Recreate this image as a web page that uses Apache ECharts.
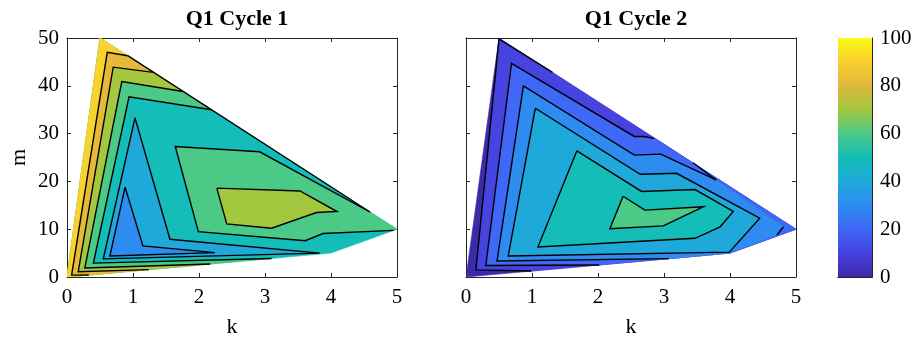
<!DOCTYPE html>
<html>
<head>
<meta charset="utf-8">
<script src="https://cdn.jsdelivr.net/npm/echarts@6/dist/echarts.min.js"></script>
<style>
  html, body { margin: 0; padding: 0; background: #fff; }
  #chart { width: 918px; height: 343px; }
</style>
</head>
<body>
<div id="chart"></div>
<script>
// ---- data (k, m) ----
const kRange = [0, 5];
const mRange = [0, 50];
const colorTicks = [0, 20, 40, 60, 80, 100];
const titles = ['Q1 Cycle 1', 'Q1 Cycle 2'];

// outline of the sampled region
const domain = [[0, 0], [0.5, 50], [5, 10], [4, 5]];

// Cycle 1 contour lines
const c1Line30 = [[0.88, 18.8], [1.15, 6.5], [2.24, 5.1], [0.65, 4.4], [0.88, 18.8]];
const c1Line40 = [[1.03, 33.3], [1.56, 7.9], [3.83, 5.0], [0.55, 3.8], [1.03, 33.3]];
const c1Line50L = [[2.19, 35.0], [0.94, 37.7], [0.40, 2.9], [3.10, 3.88]];
const c1Line50R = [[4.59, 13.6], [2.92, 26.2], [1.64, 27.3], [1.99, 9.5], [3.61, 7.6], [3.88, 9.1], [4.95, 9.75]];
const c1Line60L = [[1.76, 38.8], [0.83, 40.9], [0.27, 1.9], [2.17, 2.71]];
const c1Line60R = [[2.27, 18.6], [3.53, 18.0], [4.09, 13.7], [3.78, 13.5], [3.10, 10.2], [2.42, 11.1], [2.27, 18.6]];
const c1Line70 = [[1.31, 42.8], [0.70, 43.9], [0.17, 1.1], [1.24, 1.55]];
const c1Line80 = [[0.92, 46.3], [0.61, 47.0], [0.07, 0.4], [0.33, 0.41]];
const c1TopEdge = [[0.92, 46.3], [4.59, 13.6]];

// Cycle 2 contour lines
const c2Line0 = [[1.31, 42.8], [0.50, 49.8], [0.15, 1.5], [0.99, 1.24]];
const c2Line10 = [[2.85, 29.0], [2.69, 29.4], [2.55, 29.4], [0.69, 44.7], [0.30, 2.4], [2.02, 2.52]];
const c2Line20 = [[4.71, 8.8], [4.81, 10.5], [3.79, 20.3], [2.95, 25.7], [2.55, 25.5], [0.87, 40.0], [0.47, 3.35], [3.07, 3.84]];
const c2Line20Tip = [[4.71, 8.8], [4.81, 10.5]];
const c2Line20Main = [[3.79, 20.3], [2.95, 25.7], [2.55, 25.5], [0.87, 40.0], [0.47, 3.35], [3.07, 3.84]];
const c2Line30 = [[1.05, 35.3], [2.64, 21.5], [3.19, 21.7], [4.45, 12.3], [3.99, 5.2], [0.64, 4.4], [1.05, 35.3]];
const c2Line40 = [[1.68, 26.4], [2.66, 17.9], [3.47, 18.3], [4.05, 13.7], [3.85, 10.5], [3.47, 8.1], [1.09, 6.3], [1.68, 26.4]];
const c2Line50 = [[2.38, 16.9], [2.71, 14.0], [3.60, 14.7], [2.99, 10.7], [2.18, 10.1], [2.38, 16.9]];
const c2TopEdge = [[3.44, 23.9], [3.79, 20.3]];

// fill colour of each band, keyed by its lower level
const bandLevels = [0, 10, 20, 30, 40, 50, 60, 70, 80, 90];
const bandColors = ['#3D2AA8', '#4643E0', '#3F68F6', '#2E8CF0', '#1EA9DA', '#14BDB7', '#4BC987', '#A3C73F', '#E8B83B', '#F8D22D'];
// colour bar
const barLevels = [0, 10, 20, 30, 40, 50, 60, 70, 80, 90, 100];
const barColors = ['#3E26A8', '#4643E0', '#3F68F6', '#2E8CF0', '#1EA9DA', '#14BDB7', '#4BC987', '#A3C73F', '#DDB93A', '#F9CE2E', '#F9FB15'];

function bandColor(level) {
  return bandColors[bandLevels.indexOf(level)];
}

// band regions: lower level of the band, filled outline, contour strokes
const cycle1 = [
  { level: 50, fill: domain, lines: [c1TopEdge] },
  { level: 40, fill: c1Line40, lines: [c1Line40] },
  { level: 30, fill: c1Line30, lines: [c1Line30] },
  { level: 60, fill: c1Line50L.concat([[0, 0], [0.5, 50]]), lines: [c1Line50L] },
  { level: 60, fill: c1Line50R.concat([[5, 10]]), lines: [c1Line50R] },
  { level: 70, fill: c1Line60L.concat([[0, 0], [0.5, 50]]), lines: [c1Line60L] },
  { level: 70, fill: c1Line60R, lines: [c1Line60R] },
  { level: 80, fill: c1Line70.concat([[0, 0], [0.5, 50]]), lines: [c1Line70] },
  { level: 90, fill: c1Line80.concat([[0, 0], [0.5, 50]]), lines: [c1Line80] }
];
const cycle2 = [
  { level: 0, fill: domain, lines: [c2TopEdge] },
  { level: 10, fill: c2Line0.concat([[4, 5], [5, 10]]), lines: [c2Line0] },
  { level: 20, fill: c2Line10.concat([[4, 5], [5, 10]]), lines: [c2Line10] },
  { level: 30, fill: c2Line20.concat([[4, 5]]), lines: [c2Line20Main, c2Line20Tip] },
  { level: 40, fill: c2Line30, lines: [c2Line30] },
  { level: 50, fill: c2Line40, lines: [c2Line40] },
  { level: 60, fill: c2Line50, lines: [c2Line50] }
];

const font = 'Liberation Serif';
const axisColor = '#262626';

function fillSeries(regions, idx) {
  return {
    type: 'custom',
    xAxisIndex: idx * 2,
    yAxisIndex: idx * 2,
    clip: true,
    silent: true,
    z: 2,
    data: regions.map((r, i) => [i]),
    renderItem: function (params, api) {
      const r = regions[params.dataIndex];
      const c = bandColor(r.level);
      return {
        type: 'polygon',
        shape: { points: r.fill.map(p => api.coord(p)) },
        style: { fill: c, stroke: c, lineWidth: 0.6 }
      };
    }
  };
}
function lineSeries(regions, idx) {
  return {
    type: 'custom',
    xAxisIndex: idx * 2,
    yAxisIndex: idx * 2,
    clip: true,
    silent: true,
    z: 3,
    data: regions.map((r, i) => [i]),
    renderItem: function (params, api) {
      const r = regions[params.dataIndex];
      return {
        type: 'group',
        children: r.lines.map(l => ({
          type: 'polyline',
          shape: { points: l.map(p => api.coord(p)) },
          style: { stroke: '#000', lineWidth: 1.4, fill: null }
        }))
      };
    }
  };
}

function kAxis(grid, pos) {
  const main = pos === 'bottom';
  return {
    gridIndex: grid, type: 'value', position: pos,
    min: kRange[0], max: kRange[1], interval: 1,
    name: main ? 'k' : '', nameLocation: 'middle', nameGap: 39,
    nameTextStyle: { fontFamily: font, fontSize: 22, color: '#000' },
    axisLine: { show: true, onZero: false, lineStyle: { color: axisColor, width: 1 } },
    axisTick: { show: true, inside: true, length: 4, lineStyle: { color: axisColor } },
    axisLabel: { show: main, fontFamily: font, fontSize: 21, color: '#000', margin: 10 },
    splitLine: { show: false }
  };
}
function mAxis(grid, pos, labels) {
  const main = pos === 'left';
  return {
    gridIndex: grid, type: 'value', position: pos,
    min: mRange[0], max: mRange[1], interval: 10,
    name: main && labels ? 'm' : '', nameLocation: 'middle', nameGap: 37,
    nameTextStyle: { fontFamily: font, fontSize: 22, color: '#000' },
    axisLine: { show: true, onZero: false, lineStyle: { color: axisColor, width: 1 } },
    axisTick: { show: true, inside: true, length: 4, lineStyle: { color: axisColor } },
    axisLabel: { show: main && labels, fontFamily: font, fontSize: 21, color: '#000', margin: 8 },
    splitLine: { show: false }
  };
}

const cbStops = barLevels.map((v, i) => ({ offset: v / 100, color: barColors[i] }));

const option = {
  backgroundColor: '#fff',
  animation: false,
  title: titles.map((t, i) => ({
    text: t, left: i === 0 ? 232 : 631, top: 3, textAlign: 'center',
    textStyle: { fontFamily: font, fontSize: 22, fontWeight: 'bold', color: '#000' }
  })),
  grid: [
    { left: 67, top: 38, width: 330, height: 239 },
    { left: 466, top: 38, width: 330, height: 239 },
    { left: 838, top: 38, width: 34, height: 239 }
  ],
  xAxis: [
    kAxis(0, 'bottom'), kAxis(0, 'top'),
    kAxis(1, 'bottom'), kAxis(1, 'top'),
    { gridIndex: 2, type: 'category', data: ['c'], position: 'bottom',
      axisLine: { show: true, lineStyle: { color: axisColor } }, axisTick: { show: false }, axisLabel: { show: false } },
    { gridIndex: 2, type: 'category', data: ['c'], position: 'top',
      axisLine: { show: true, lineStyle: { color: axisColor } }, axisTick: { show: false }, axisLabel: { show: false } }
  ],
  yAxis: [
    mAxis(0, 'left', true), mAxis(0, 'right', false),
    mAxis(1, 'left', false), mAxis(1, 'right', false),
    { gridIndex: 2, type: 'value', position: 'right', min: 0, max: 100, interval: 20,
      axisLine: { show: true, lineStyle: { color: axisColor } },
      axisTick: { show: true, inside: true, length: 4, lineStyle: { color: axisColor } },
      axisLabel: { fontFamily: font, fontSize: 21, color: '#000', margin: 8 },
      splitLine: { show: false } },
    { gridIndex: 2, type: 'value', position: 'left', min: 0, max: 100, interval: 20,
      axisLine: { show: true, lineStyle: { color: axisColor } },
      axisTick: { show: false }, axisLabel: { show: false }, splitLine: { show: false } }
  ],
  series: [
    fillSeries(cycle1, 0), lineSeries(cycle1, 0),
    fillSeries(cycle2, 1), lineSeries(cycle2, 1),
    {
      type: 'bar', xAxisIndex: 4, yAxisIndex: 4, barWidth: '100%', silent: true,
      data: [colorTicks[colorTicks.length - 1]],
      itemStyle: { color: new echarts.graphic.LinearGradient(0, 1, 0, 0, cbStops) }
    }
  ]
};

const chart = echarts.init(document.getElementById('chart'));
chart.setOption(option);
</script>
</body>
</html>
